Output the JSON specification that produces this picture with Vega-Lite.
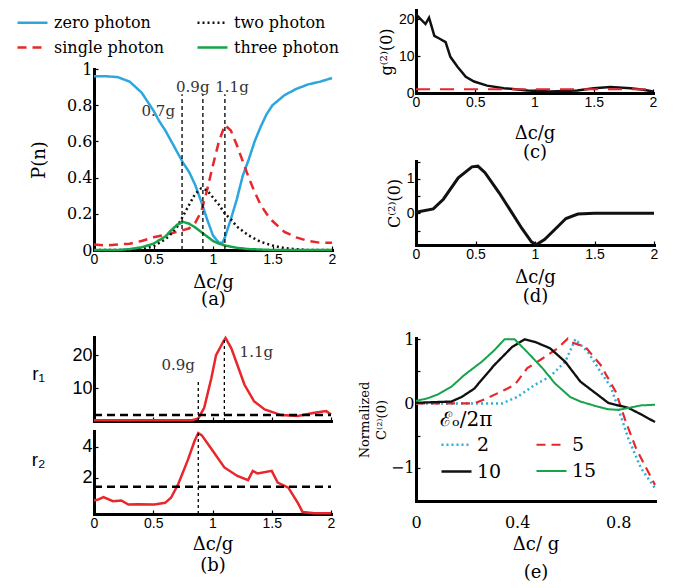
{
  "$schema": "https://vega.github.io/schema/vega-lite/v6.json",
  "background": "white",
  "padding": {"left": 16, "top": 6, "right": 5, "bottom": 2},
  "config": {
    "view": {"stroke": null},
    "axis": {"grid": false, "domainColor": "#000", "domainWidth": 3, "domainCap": "square", "tickColor": "#000", "tickWidth": 1.2, "tickSize": -4, "labelPadding": 6, "labelOverlap": false, "labelFlush": false, "labelColor": "#000", "titleColor": "#000", "titleFontWeight": "normal", "labelFont": "Liberation Sans", "labelFontSize": 14, "titleFont": "DejaVu Serif", "titleFontSize": 18}
  },
  "datasets": {
    "a": [
      {"x":0,"P":0.96,"s":"zero photon"},{"x":0.1,"P":0.96,"s":"zero photon"},{"x":0.2,"P":0.955,"s":"zero photon"},{"x":0.3,"P":0.93,"s":"zero photon"},{"x":0.4,"P":0.87,"s":"zero photon"},{"x":0.45,"P":0.82,"s":"zero photon"},{"x":0.5,"P":0.77,"s":"zero photon"},{"x":0.55,"P":0.71,"s":"zero photon"},{"x":0.6,"P":0.66,"s":"zero photon"},{"x":0.65,"P":0.6,"s":"zero photon"},{"x":0.7,"P":0.54,"s":"zero photon"},{"x":0.75,"P":0.48,"s":"zero photon"},{"x":0.8,"P":0.43,"s":"zero photon"},{"x":0.85,"P":0.36,"s":"zero photon"},{"x":0.9,"P":0.27,"s":"zero photon"},{"x":0.95,"P":0.17,"s":"zero photon"},{"x":1.0,"P":0.08,"s":"zero photon"},{"x":1.05,"P":0.04,"s":"zero photon"},{"x":1.08,"P":0.04,"s":"zero photon"},{"x":1.1,"P":0.07,"s":"zero photon"},{"x":1.15,"P":0.17,"s":"zero photon"},{"x":1.2,"P":0.28,"s":"zero photon"},{"x":1.25,"P":0.41,"s":"zero photon"},{"x":1.3,"P":0.5,"s":"zero photon"},{"x":1.35,"P":0.6,"s":"zero photon"},{"x":1.4,"P":0.68,"s":"zero photon"},{"x":1.45,"P":0.75,"s":"zero photon"},{"x":1.5,"P":0.8,"s":"zero photon"},{"x":1.6,"P":0.855,"s":"zero photon"},{"x":1.7,"P":0.89,"s":"zero photon"},{"x":1.8,"P":0.915,"s":"zero photon"},{"x":1.9,"P":0.93,"s":"zero photon"},{"x":2.0,"P":0.95,"s":"zero photon"},
      {"x":0,"P":0.03,"s":"single photon"},{"x":0.1,"P":0.025,"s":"single photon"},{"x":0.2,"P":0.03,"s":"single photon"},{"x":0.3,"P":0.035,"s":"single photon"},{"x":0.4,"P":0.05,"s":"single photon"},{"x":0.5,"P":0.07,"s":"single photon"},{"x":0.6,"P":0.085,"s":"single photon"},{"x":0.7,"P":0.1,"s":"single photon"},{"x":0.75,"P":0.11,"s":"single photon"},{"x":0.8,"P":0.12,"s":"single photon"},{"x":0.85,"P":0.15,"s":"single photon"},{"x":0.9,"P":0.21,"s":"single photon"},{"x":0.95,"P":0.33,"s":"single photon"},{"x":1.0,"P":0.47,"s":"single photon"},{"x":1.05,"P":0.6,"s":"single photon"},{"x":1.1,"P":0.69,"s":"single photon"},{"x":1.15,"P":0.66,"s":"single photon"},{"x":1.2,"P":0.58,"s":"single photon"},{"x":1.25,"P":0.49,"s":"single photon"},{"x":1.3,"P":0.4,"s":"single photon"},{"x":1.35,"P":0.32,"s":"single photon"},{"x":1.4,"P":0.25,"s":"single photon"},{"x":1.45,"P":0.2,"s":"single photon"},{"x":1.5,"P":0.16,"s":"single photon"},{"x":1.6,"P":0.1,"s":"single photon"},{"x":1.7,"P":0.07,"s":"single photon"},{"x":1.8,"P":0.05,"s":"single photon"},{"x":1.9,"P":0.04,"s":"single photon"},{"x":2.0,"P":0.04,"s":"single photon"},
      {"x":0,"P":0,"s":"two photon"},{"x":0.3,"P":0,"s":"two photon"},{"x":0.4,"P":0.005,"s":"two photon"},{"x":0.5,"P":0.02,"s":"two photon"},{"x":0.6,"P":0.06,"s":"two photon"},{"x":0.65,"P":0.09,"s":"two photon"},{"x":0.7,"P":0.13,"s":"two photon"},{"x":0.75,"P":0.19,"s":"two photon"},{"x":0.8,"P":0.25,"s":"two photon"},{"x":0.85,"P":0.31,"s":"two photon"},{"x":0.9,"P":0.34,"s":"two photon"},{"x":0.95,"P":0.33,"s":"two photon"},{"x":1.0,"P":0.29,"s":"two photon"},{"x":1.05,"P":0.25,"s":"two photon"},{"x":1.1,"P":0.2,"s":"two photon"},{"x":1.15,"P":0.17,"s":"two photon"},{"x":1.2,"P":0.13,"s":"two photon"},{"x":1.3,"P":0.08,"s":"two photon"},{"x":1.4,"P":0.045,"s":"two photon"},{"x":1.5,"P":0.025,"s":"two photon"},{"x":1.6,"P":0.01,"s":"two photon"},{"x":1.7,"P":0.005,"s":"two photon"},{"x":1.8,"P":0,"s":"two photon"},{"x":2.0,"P":0,"s":"two photon"},
      {"x":0,"P":0,"s":"three photon"},{"x":0.2,"P":0,"s":"three photon"},{"x":0.3,"P":0.005,"s":"three photon"},{"x":0.4,"P":0.015,"s":"three photon"},{"x":0.5,"P":0.035,"s":"three photon"},{"x":0.6,"P":0.075,"s":"three photon"},{"x":0.65,"P":0.11,"s":"three photon"},{"x":0.7,"P":0.14,"s":"three photon"},{"x":0.75,"P":0.155,"s":"three photon"},{"x":0.8,"P":0.145,"s":"three photon"},{"x":0.85,"P":0.125,"s":"three photon"},{"x":0.9,"P":0.1,"s":"three photon"},{"x":0.95,"P":0.075,"s":"three photon"},{"x":1.0,"P":0.05,"s":"three photon"},{"x":1.05,"P":0.035,"s":"three photon"},{"x":1.1,"P":0.025,"s":"three photon"},{"x":1.2,"P":0.012,"s":"three photon"},{"x":1.3,"P":0.005,"s":"three photon"},{"x":1.5,"P":0,"s":"three photon"},{"x":2.0,"P":0,"s":"three photon"}
    ],
    "aRules": [{"x":0.74,"P":0,"P2":0.86},{"x":0.915,"P":0,"P2":0.86},{"x":1.1,"P":0,"P2":0.86}],
    "aText": [{"x":0.54,"P":0.77,"t":"0.7g"},{"x":0.83,"P":0.9,"t":"0.9g"},{"x":1.16,"P":0.9,"t":"1.1g"}],
    "b1": [{"x":0,"r":0.2},{"x":0.5,"r":0.2},{"x":0.82,"r":0.2},{"x":0.88,"r":0.8},{"x":0.93,"r":4},{"x":0.99,"r":13},{"x":1.03,"r":20},{"x":1.09,"r":24},{"x":1.11,"r":25.2},{"x":1.16,"r":22},{"x":1.21,"r":17},{"x":1.27,"r":11},{"x":1.35,"r":6},{"x":1.44,"r":3.5},{"x":1.58,"r":1.8},{"x":1.72,"r":1.5},{"x":1.86,"r":2.5},{"x":1.96,"r":3},{"x":2,"r":2}],
    "b2": [{"x":0,"r":0.52},{"x":0.04,"r":0.59},{"x":0.08,"r":0.74},{"x":0.16,"r":0.48},{"x":0.23,"r":0.52},{"x":0.29,"r":0.26},{"x":0.37,"r":0.28},{"x":0.51,"r":0.26},{"x":0.6,"r":0.37},{"x":0.65,"r":0.7},{"x":0.71,"r":1.57},{"x":0.79,"r":3.09},{"x":0.85,"r":4.39},{"x":0.88,"r":4.87},{"x":0.91,"r":4.72},{"x":0.99,"r":3.85},{"x":1.1,"r":2.65},{"x":1.21,"r":2.1},{"x":1.3,"r":1.83},{"x":1.34,"r":2.43},{"x":1.38,"r":2.26},{"x":1.5,"r":2.43},{"x":1.55,"r":1.67},{"x":1.64,"r":1.35},{"x":1.72,"r":0.37},{"x":1.76,"r":-0.22},{"x":1.86,"r":-0.3},{"x":2,"r":-0.3}],
    "c": [{"x":0,"g":21.3},{"x":0.08,"g":18.7},{"x":0.11,"g":20.4},{"x":0.155,"g":15.5},{"x":0.2,"g":14.7},{"x":0.25,"g":13.8},{"x":0.29,"g":9.8},{"x":0.35,"g":7.1},{"x":0.42,"g":4.4},{"x":0.49,"g":3.1},{"x":0.6,"g":2},{"x":0.74,"g":1.3},{"x":0.94,"g":0.7},{"x":1.13,"g":0.4},{"x":1.36,"g":0.7},{"x":1.5,"g":1.3},{"x":1.64,"g":1.6},{"x":1.81,"g":1.3},{"x":1.92,"g":0.9},{"x":2,"g":0.4}],
    "d": [{"x":0,"C":0.03},{"x":0.145,"C":0.13},{"x":0.23,"C":0.41},{"x":0.355,"C":1.03},{"x":0.47,"C":1.35},{"x":0.52,"C":1.37},{"x":0.58,"C":1.18},{"x":0.7,"C":0.59},{"x":0.8,"C":0.05},{"x":0.89,"C":-0.44},{"x":0.97,"C":-0.83},{"x":1.01,"C":-0.91},{"x":1.08,"C":-0.76},{"x":1.19,"C":-0.39},{"x":1.26,"C":-0.15},{"x":1.36,"C":-0.02},{"x":1.5,"C":0},{"x":2,"C":0}],
    "e": [
      {"x":0,"C":0,"eps":"2"},{"x":0.34,"C":0,"eps":"2"},{"x":0.4,"C":0.1,"eps":"2"},{"x":0.47,"C":0.29,"eps":"2"},{"x":0.53,"C":0.42,"eps":"2"},{"x":0.59,"C":0.65,"eps":"2"},{"x":0.63,"C":1.0,"eps":"2"},{"x":0.68,"C":0.8,"eps":"2"},{"x":0.73,"C":0.49,"eps":"2"},{"x":0.77,"C":0.26,"eps":"2"},{"x":0.8,"C":-0.08,"eps":"2"},{"x":0.84,"C":-0.55,"eps":"2"},{"x":0.89,"C":-1.01,"eps":"2"},{"x":0.945,"C":-1.32,"eps":"2"},
      {"x":0,"C":0,"eps":"5"},{"x":0.23,"C":0,"eps":"5"},{"x":0.28,"C":0.08,"eps":"5"},{"x":0.35,"C":0.21,"eps":"5"},{"x":0.39,"C":0.29,"eps":"5"},{"x":0.44,"C":0.55,"eps":"5"},{"x":0.5,"C":0.7,"eps":"5"},{"x":0.56,"C":0.86,"eps":"5"},{"x":0.6,"C":1.01,"eps":"5"},{"x":0.61,"C":0.96,"eps":"5"},{"x":0.67,"C":0.88,"eps":"5"},{"x":0.73,"C":0.6,"eps":"5"},{"x":0.79,"C":0.18,"eps":"5"},{"x":0.83,"C":-0.29,"eps":"5"},{"x":0.87,"C":-0.7,"eps":"5"},{"x":0.945,"C":-1.27,"eps":"5"},
      {"x":0,"C":0.01,"eps":"10"},{"x":0.14,"C":0.03,"eps":"10"},{"x":0.18,"C":0.1,"eps":"10"},{"x":0.23,"C":0.23,"eps":"10"},{"x":0.31,"C":0.6,"eps":"10"},{"x":0.38,"C":0.88,"eps":"10"},{"x":0.43,"C":1.0,"eps":"10"},{"x":0.47,"C":0.96,"eps":"10"},{"x":0.53,"C":0.86,"eps":"10"},{"x":0.59,"C":0.65,"eps":"10"},{"x":0.65,"C":0.34,"eps":"10"},{"x":0.71,"C":0.16,"eps":"10"},{"x":0.76,"C":0.01,"eps":"10"},{"x":0.84,"C":-0.07,"eps":"10"},{"x":0.89,"C":-0.17,"eps":"10"},{"x":0.945,"C":-0.29,"eps":"10"},
      {"x":0,"C":0.04,"eps":"15"},{"x":0.046,"C":0.08,"eps":"15"},{"x":0.086,"C":0.14,"eps":"15"},{"x":0.14,"C":0.26,"eps":"15"},{"x":0.19,"C":0.44,"eps":"15"},{"x":0.26,"C":0.65,"eps":"15"},{"x":0.31,"C":0.83,"eps":"15"},{"x":0.35,"C":1.0,"eps":"15"},{"x":0.39,"C":1.0,"eps":"15"},{"x":0.44,"C":0.8,"eps":"15"},{"x":0.5,"C":0.55,"eps":"15"},{"x":0.55,"C":0.31,"eps":"15"},{"x":0.61,"C":0.1,"eps":"15"},{"x":0.65,"C":0.03,"eps":"15"},{"x":0.71,"C":-0.04,"eps":"15"},{"x":0.76,"C":-0.09,"eps":"15"},{"x":0.8,"C":-0.1,"eps":"15"},{"x":0.84,"C":-0.07,"eps":"15"},{"x":0.89,"C":-0.03,"eps":"15"},{"x":0.945,"C":-0.02,"eps":"15"}
    ]
  },
  "spacing": 19,
  "resolve": {"scale": {"color": "independent", "strokeDash": "independent", "strokeWidth": "independent"}, "legend": {"color": "independent", "strokeDash": "independent", "strokeWidth": "independent"}},
  "hconcat": [
    {
      "spacing": -5,
      "resolve": {"scale": {"color": "independent", "strokeDash": "independent", "strokeWidth": "independent"}, "legend": {"color": "independent", "strokeDash": "independent", "strokeWidth": "independent"}},
      "vconcat": [
        {
          "width": 238, "height": 1,
          "data": {"values": []},
          "mark": {"type": "text"},
          "encoding": {}
        },
        {
          "spacing": 24,
          "resolve": {"scale": {"color": "independent", "strokeDash": "independent", "strokeWidth": "independent"}, "legend": {"color": "independent", "strokeDash": "independent", "strokeWidth": "independent"}},
          "vconcat": [
            {
              "width": 238, "height": 181,
              "encoding": {
                "x": {"field": "x", "type": "quantitative", "scale": {"domain": [0, 2], "nice": false}, "axis": {"values": [0, 0.5, 1, 1.5, 2], "format": "~g", "title": ["Δc/g", "(a)"], "titleLineHeight": 17, "titlePadding": 7}},
                "y": {"field": "P", "type": "quantitative", "scale": {"domain": [0, 1], "nice": false}, "axis": {"values": [0, 0.2, 0.4, 0.6, 0.8, 1], "labelExpr": "datum.value == 0 ? '0' : datum.value == 1 ? '1' : format(datum.value, '.1f')", "labelOverlap": false, "labelFont": "DejaVu Serif", "labelFontSize": 16, "title": "P(n)", "titlePadding": 18}}
              },
              "layer": [
                {
                  "data": {"name": "a"},
                  "mark": {"type": "line", "strokeCap": "butt"},
                  "encoding": {
                    "color": {"field": "s", "type": "nominal", "scale": {"domain": ["zero photon", "single photon", "two photon", "three photon"], "range": ["#2ba6de", "#e8262b", "#111111", "#17a34a"]},
                      "legend": {"title": null, "orient": "none", "legendX": -78, "legendY": -63, "columns": 2, "columnPadding": 27, "rowPadding": -7, "symbolType": "stroke", "symbolSize": 900, "labelFont": "DejaVu Serif", "labelFontSize": 16, "labelOffset": 5}},
                    "strokeDash": {"field": "s", "type": "nominal", "scale": {"domain": ["zero photon", "single photon", "two photon", "three photon"], "range": [[1, 0], [9, 6], [2, 3], [1, 0]]}},
                    "strokeWidth": {"field": "s", "type": "nominal", "scale": {"domain": ["zero photon", "single photon", "two photon", "three photon"], "range": [2.5, 2.5, 2.5, 4.5]}}
                  }
                },
                {
                  "data": {"name": "aRules"},
                  "mark": {"type": "rule", "strokeDash": [4, 3], "strokeWidth": 1.3, "color": "black"},
                  "encoding": {"y2": {"field": "P2"}}
                },
                {
                  "data": {"name": "aText"},
                  "mark": {"type": "text", "font": "DejaVu Serif", "fontSize": 15, "color": "#333"},
                  "encoding": {"text": {"field": "t"}}
                }
              ]
            },
            {
              "spacing": 2,
              "vconcat": [
                {
                  "width": 237, "height": 84,
                  "layer": [
                    {
                      "data": {"name": "b1"},
                      "mark": {"type": "line", "color": "#e8262b", "strokeWidth": 2.5},
                      "encoding": {
                        "x": {"field": "x", "type": "quantitative", "scale": {"domain": [0, 2], "nice": false}, "axis": {"values": [0, 0.5, 1, 1.5, 2], "labels": false, "title": null}},
                        "y": {"field": "r", "type": "quantitative", "scale": {"domain": [0, 25.5], "nice": false}, "axis": {"values": [10, 20], "labelFontSize": 18, "title": "r₁", "titleFont": "Liberation Sans", "titleFontSize": 19, "titleAngle": 0, "titleAlign": "center", "titleBaseline": "middle", "titleX": -56, "titleY": 36}}
                      }
                    },
                    {
                      "data": {"values": [{"x": 0, "x2": 2, "y": 1.8}]},
                      "mark": {"type": "rule", "strokeDash": [8, 5], "strokeWidth": 2.5, "color": "black"},
                      "encoding": {"x": {"field": "x", "type": "quantitative"}, "x2": {"field": "x2"}, "y": {"field": "y", "type": "quantitative"}}
                    },
                    {
                      "data": {"values": [{"x": 0.88, "y": 0, "y2": 12.5}, {"x": 1.1, "y": 0, "y2": 25.5}]},
                      "mark": {"type": "rule", "strokeDash": [3, 3], "strokeWidth": 1.3, "color": "black"},
                      "encoding": {"x": {"field": "x", "type": "quantitative"}, "y": {"field": "y", "type": "quantitative"}, "y2": {"field": "y2"}}
                    },
                    {
                      "data": {"values": [{"x": 0.71, "y": 17, "t": "0.9g"}, {"x": 1.37, "y": 21, "t": "1.1g"}]},
                      "mark": {"type": "text", "font": "DejaVu Serif", "fontSize": 15, "color": "#333"},
                      "encoding": {"x": {"field": "x", "type": "quantitative"}, "y": {"field": "y", "type": "quantitative"}, "text": {"field": "t"}}
                    }
                  ]
                },
                {
                  "width": 237, "height": 83,
                  "layer": [
                    {
                      "data": {"name": "b2"},
                      "mark": {"type": "line", "color": "#e8262b", "strokeWidth": 2.5},
                      "encoding": {
                        "x": {"field": "x", "type": "quantitative", "scale": {"domain": [0, 2], "nice": false}, "axis": {"values": [0, 0.5, 1, 1.5, 2], "format": "~g", "title": ["Δc/g", "(b)"], "titleLineHeight": 21, "titlePadding": 5}},
                        "y": {"field": "r", "type": "quantitative", "scale": {"domain": [-0.35, 5], "nice": false}, "axis": {"values": [2, 4], "labelFontSize": 18, "title": "r₂", "titleFont": "Liberation Sans", "titleFontSize": 19, "titleAngle": 0, "titleAlign": "center", "titleBaseline": "middle", "titleX": -56, "titleY": 28}}
                      }
                    },
                    {
                      "data": {"values": [{"x": 0, "x2": 2, "y": 1.4}]},
                      "mark": {"type": "rule", "strokeDash": [8, 5], "strokeWidth": 2.5, "color": "black"},
                      "encoding": {"x": {"field": "x", "type": "quantitative"}, "x2": {"field": "x2"}, "y": {"field": "y", "type": "quantitative"}}
                    },
                    {
                      "data": {"values": [{"x": 0.88, "y": -0.35, "y2": 5}]},
                      "mark": {"type": "rule", "strokeDash": [3, 3], "strokeWidth": 1.3, "color": "black"},
                      "encoding": {"x": {"field": "x", "type": "quantitative"}, "y": {"field": "y", "type": "quantitative"}, "y2": {"field": "y2"}}
                    }
                  ]
                }
              ]
            }
          ]
        }
      ]
    },
    {
      "spacing": 26,
      "resolve": {"scale": {"color": "independent", "strokeDash": "independent", "strokeWidth": "independent"}, "legend": {"color": "independent", "strokeDash": "independent", "strokeWidth": "independent"}},
      "vconcat": [
        {
          "spacing": -7,
          "vconcat": [
            {
              "width": 237, "height": 83,
              "layer": [
                {
                  "data": {"name": "c"},
                  "mark": {"type": "line", "color": "#111", "strokeWidth": 2.5},
                  "encoding": {
                    "x": {"field": "x", "type": "quantitative", "scale": {"domain": [0, 2], "nice": false}, "axis": {"values": [0, 0.5, 1, 1.5, 2], "format": "~g", "title": ["Δc/g", "(c)"], "titleLineHeight": 19, "titlePadding": 15}},
                    "y": {"field": "g", "type": "quantitative", "scale": {"domain": [0, 22.5], "nice": false}, "axis": {"values": [0, 10, 20], "title": "g⁽²⁾(0)", "titleFontSize": 16, "titlePadding": 4}}
                  }
                },
                {
                  "data": {"values": [{"x": 0, "x2": 2, "y": 1}]},
                  "mark": {"type": "rule", "strokeDash": [14, 10], "strokeWidth": 2, "color": "#e8262b"},
                  "encoding": {"x": {"field": "x", "type": "quantitative"}, "x2": {"field": "x2"}, "y": {"field": "y", "type": "quantitative"}}
                }
              ]
            },
            {
              "width": 238, "height": 84,
              "data": {"name": "d"},
              "mark": {"type": "line", "color": "#111", "strokeWidth": 3},
              "encoding": {
                "x": {"field": "x", "type": "quantitative", "scale": {"domain": [0, 2], "nice": false}, "axis": {"values": [0, 0.5, 1, 1.5, 2], "format": "~g", "title": ["Δc/g", "(d)"], "titleLineHeight": 19, "titlePadding": 7}},
                "y": {"field": "C", "type": "quantitative", "scale": {"domain": [-0.92, 1.52], "nice": false}, "axis": {"values": [-0.5, 0, 0.5, 1, 1.5], "labelExpr": "datum.value == 0 || datum.value == 1 ? datum.label : ''", "format": "~g", "title": "C⁽²⁾(0)", "titleFontSize": 16, "titlePadding": 4}}
              }
            }
          ]
        },
        {
          "width": 239, "height": 163,
          "data": {"name": "e"},
          "mark": {"type": "line", "strokeCap": "butt"},
          "encoding": {
            "x": {"field": "x", "type": "quantitative", "scale": {"domain": [0, 0.945], "nice": false}, "axis": {"values": [0, 0.4, 0.8], "format": "~g", "ticks": false, "labelFont": "DejaVu Serif", "labelFontSize": 16, "labelPadding": 13, "title": ["Δc/ g", "(e)"], "titleLineHeight": 28, "titlePadding": 5}},
            "y": {"field": "C", "type": "quantitative", "scale": {"domain": [-1.52, 1.02], "nice": false}, "axis": {"values": [-1, -0.5, 0, 0.5, 1], "labelExpr": "datum.value == 0 || datum.value == 1 || datum.value == -1 ? datum.label : ''", "format": "~g", "labelFont": "DejaVu Serif", "labelFontSize": 16, "title": ["Normalized", "C⁽²⁾(0)"], "titleFontSize": 13, "titleLineHeight": 17, "titlePadding": 2}},
            "color": {"field": "eps", "type": "nominal", "scale": {"domain": ["2", "10", "5", "15"], "range": ["#2bb0dc", "#111111", "#e8262b", "#17a34a"]},
              "legend": {"title": "ℰₒ/2π", "titleFont": "DejaVu Serif", "titleFontSize": 20, "titleFontWeight": "normal", "titlePadding": -2, "orient": "none", "legendX": 24, "legendY": 72, "columns": 2, "columnPadding": 30, "rowPadding": -18, "symbolType": "stroke", "symbolSize": 900, "labelFont": "DejaVu Serif", "labelFontSize": 19, "labelOffset": 4}},
            "strokeDash": {"field": "eps", "type": "nominal", "scale": {"domain": ["2", "10", "5", "15"], "range": [[2, 3], [1, 0], [9, 6], [1, 0]]}},
            "strokeWidth": {"field": "eps", "type": "nominal", "scale": {"domain": ["2", "10", "5", "15"], "range": [2.5, 2, 2.5, 4.5]}}
          }
        }
      ]
    }
  ]
}
